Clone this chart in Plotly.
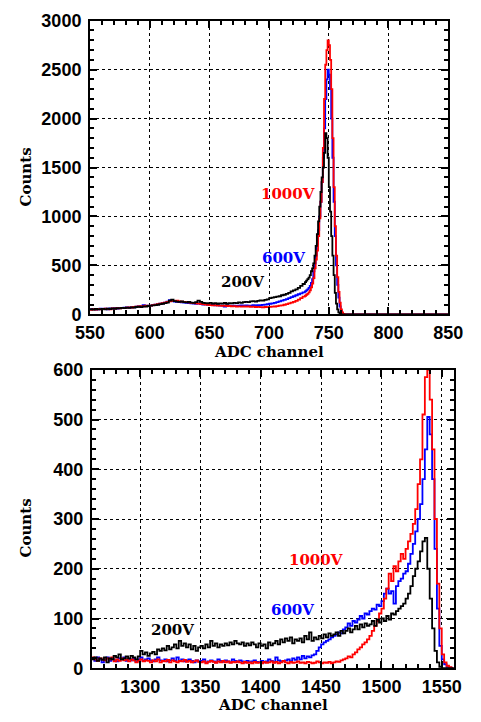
import plotly.graph_objects as go

# ---------------- Top panel data (ADC channel 550-850) ----------------
top_tail_channels = list(range(550, 730, 2))          # 2-channel bins
top_peak_channels = list(range(730, 766))             # 1-channel bins near the peak
top_end_channels = [766, 850]

top_black_tail = [52, 48, 55, 50, 53, 55, 50, 58, 54, 60, 57, 62, 60, 65, 63,
                  68, 66, 72, 70, 75, 78, 74, 82, 80, 85, 88, 92, 95, 98, 105,
                  108, 115, 120, 140, 150, 135, 130, 128, 132, 125, 122, 128, 120, 118, 125,
                  140, 128, 118, 115, 112, 118, 110, 115, 108, 112, 110, 116, 108, 114, 112,
                  118, 115, 122, 118, 125, 128, 124, 132, 135, 130, 138, 142, 140, 148, 152,
                  165, 170, 175, 180, 185, 195, 200, 210, 220, 235, 245, 255, 270, 290, 310]
top_black_peak = [330, 345, 360, 375, 400, 440, 470, 520, 600, 700, 820, 950, 1100, 1250, 1400,
                  1500, 1650, 1850, 1800, 1600, 1300, 1050, 800, 600, 400, 220, 110, 50, 20, 5,
                  0, 0, 0, 0, 0, 0]

top_blue_tail = [50, 55, 48, 52, 57, 54, 58, 52, 60, 57, 62, 58, 65, 63, 68,
                 70, 66, 74, 72, 78, 82, 78, 95, 85, 88, 90, 95, 98, 102, 108,
                 112, 120, 130, 145, 135, 130, 128, 125, 122, 120, 118, 115, 112, 110, 108,
                 112, 105, 100, 102, 98, 95, 97, 92, 94, 90, 88, 80, 92, 89, 87,
                 90, 86, 88, 92, 89, 92, 90, 88, 94, 92, 95, 93, 97, 100, 103,
                 108, 112, 118, 125, 132, 140, 148, 155, 165, 175, 185, 195, 205, 215, 225]
top_blue_peak = [235, 245, 255, 270, 290, 320, 360, 440, 520, 600, 720, 860, 1000, 1150, 1350,
                 1600, 1900, 2200, 2400, 2500, 2450, 2300, 2000, 1600, 1150, 800, 500, 300, 170, 80,
                 35, 10, 0, 0, 0, 0]

top_red_tail = [45, 52, 48, 55, 50, 53, 58, 55, 52, 60, 58, 63, 60, 66, 64,
                68, 72, 70, 75, 78, 80, 84, 82, 88, 86, 90, 94, 100, 105, 110,
                115, 120, 128, 132, 138, 135, 140, 132, 130, 128, 125, 122, 118, 115, 112,
                110, 108, 104, 100, 98, 95, 92, 94, 90, 88, 86, 88, 84, 86, 82,
                84, 80, 82, 78, 80, 78, 80, 76, 78, 75, 76, 74, 72, 75, 74,
                76, 78, 80, 84, 88, 92, 98, 105, 112, 120, 128, 138, 150, 165, 180]
top_red_peak = [190, 200, 210, 225, 245, 275, 315, 370, 470, 560, 650, 800, 980, 1150, 1350,
                1700, 2200, 2550, 2700, 2800, 2750, 2600, 2300, 1800, 1300, 900, 600, 380, 230, 120,
                50, 20, 5, 0, 0, 0]

# ---------------- Bottom panel data (ADC channel 1260-1560) ----------------
bot_channels = list(range(1260, 1560, 2))
bot_end_channel = [1560]

bot_black = [18, 22, 15, 20, 17, 22, 12, 20, 18, 25, 22, 28, 18, 20, 24, 20, 25, 22, 18, 24,
             35, 28, 32, 25, 30, 33, 28, 38, 35, 40, 36, 45, 38, 42, 48, 40, 55, 45, 50, 42,
             48, 38, 45, 35, 42, 45, 40, 48, 42, 55, 45, 50, 42, 48, 45, 50, 46, 52, 48, 55,
             50, 48, 52, 45, 50, 46, 52, 48, 42, 50, 45, 48, 40, 52, 46, 50, 55, 48, 58, 52,
             60, 55, 62, 50, 58, 55, 60, 52, 65, 58, 72, 55, 62, 58, 65, 60, 68, 62, 70, 65,
             68, 72, 65, 75, 70, 75, 80, 72, 78, 85, 78, 88, 82, 90, 85, 88, 95, 85, 98, 92,
             100, 95, 105, 98, 110, 108, 115, 120, 125, 130, 140, 150, 165, 185, 200,
             215, 235, 255, 262, 200, 140, 80, 35, 12, 3, 0, 0, 0, 0, 0]

bot_blue = [20, 15, 22, 18, 12, 18, 22, 15, 20, 16, 14, 20, 18, 22, 15, 18, 16, 20, 14, 18,
            22, 15, 18, 20, 16, 14, 18, 22, 16, 15, 18, 14, 16, 20, 15, 22, 15, 18, 14, 16,
            18, 15, 12, 16, 14, 15, 18, 12, 14, 16, 14, 12, 18, 15, 13, 16, 14, 12, 18, 15,
            13, 16, 14, 12, 15, 12, 14, 16, 13, 12, 15, 12, 14, 18, 15, 12, 22, 16, 14, 15,
            16, 18, 14, 20, 17, 22, 18, 25, 20, 24, 22, 26, 28, 35, 42, 48, 52, 55, 58, 62,
            65, 68, 72, 70, 78, 82, 90, 85, 95, 92, 98, 105, 100, 110, 108, 115, 120, 118, 128, 125,
            135, 150, 160, 150, 155, 130, 165, 175, 180, 190, 195, 210, 230, 250, 275,
            300, 330, 380, 440, 505, 470, 380, 240, 120, 45, 18, 8, 3, 1, 0]

bot_red = [22, 18, 15, 20, 18, 16, 20, 18, 22, 14, 18, 15, 20, 16, 18, 14, 18, 16, 12, 15,
           18, 14, 16, 15, 12, 16, 14, 18, 12, 15, 14, 17, 12, 16, 14, 12, 15, 14, 17, 13,
           15, 12, 14, 16, 13, 12, 14, 10, 13, 15, 13, 11, 14, 12, 15, 12, 14, 11, 13, 12,
           14, 12, 10, 13, 11, 12, 10, 13, 11, 12, 10, 13, 11, 12, 14, 11, 13, 10, 12, 15,
           12, 10, 13, 11, 12, 14, 11, 12, 10, 13, 12, 10, 11, 14, 12, 10, 12, 11, 13, 10,
           12, 14, 13, 16, 18, 20, 24, 22, 28, 32, 38, 42, 48, 52, 58, 65, 75, 85, 95, 110,
           120, 140, 160, 190, 175, 205, 195, 215, 230, 220, 240, 255, 270, 290, 320,
           370, 420, 510, 585, 600, 540, 440, 300, 170, 80, 28, 12, 5, 2, 0]

labels = ["200V", "600V", "1000V"]
colors = {"200V": "#000000", "600V": "#0000ff", "1000V": "#ff0000"}

TICK_FONT = dict(family="Liberation Sans", size=18, color="black", weight="bold")
LABEL_FONT = dict(family="DejaVu Serif", size=15, color="black", weight="bold")

fig = go.Figure()

top_x = top_tail_channels + top_peak_channels + top_end_channels
top_series = {
    "600V": top_blue_tail + top_blue_peak + [0, 0],
    "1000V": top_red_tail + top_red_peak + [0, 0],
    "200V": top_black_tail + top_black_peak + [0, 0],
}
for name, ys in top_series.items():
    fig.add_trace(go.Scatter(x=top_x, y=ys, mode="lines", line_shape="hv",
                             line=dict(color=colors[name], width=1.8),
                             xaxis="x", yaxis="y", showlegend=False, name=name))

bot_x = bot_channels + bot_end_channel
bot_series = {
    "600V": bot_blue + [bot_blue[-1]],
    "1000V": bot_red + [bot_red[-1]],
    "200V": bot_black + [bot_black[-1]],
}
for name, ys in bot_series.items():
    fig.add_trace(go.Scatter(x=bot_x, y=ys, mode="lines", line_shape="hv",
                             line=dict(color=colors[name], width=1.8),
                             xaxis="x2", yaxis="y2", showlegend=False, name=name))

W, H = 481, 722


def axis_common():
    return dict(showline=True, linecolor="black", linewidth=2, mirror="allticks",
                ticks="inside", ticklen=7, tickwidth=1.5, tickcolor="black",
                showgrid=True, gridcolor="black", gridwidth=1, griddash="dot",
                zeroline=False, tickfont=TICK_FONT, fixedrange=True)


fig.update_layout(
    width=W, height=H, autosize=False,
    margin=dict(l=0, r=0, t=0, b=0),
    paper_bgcolor="white", plot_bgcolor="white",
    xaxis=dict(domain=[80 / W, 462 / W], range=[550, 850], dtick=50, tick0=550,
               ticklabelstandoff=1,
               minor=dict(dtick=10, ticks="inside", ticklen=4, tickcolor="black", showgrid=False),
               anchor="y", **axis_common()),
    yaxis=dict(domain=[1 - 313 / H, 1 - 11 / H], range=[0, 3000], dtick=500,
               ticklabelstandoff=3,
               minor=dict(dtick=100, ticks="inside", ticklen=4, tickcolor="black", showgrid=False),
               anchor="x", **axis_common()),
    xaxis2=dict(domain=[82 / W, 468 / W], range=[1260, 1560], dtick=50, tick0=1300,
                ticklabelstandoff=1,
                minor=dict(dtick=10, ticks="inside", ticklen=4, tickcolor="black", showgrid=False),
                anchor="y2", **axis_common()),
    yaxis2=dict(domain=[1 - 677 / H, 1 - 370 / H], range=[0, 600], dtick=100,
                ticklabelstandoff=3,
                minor=dict(dtick=20, ticks="inside", ticklen=4, tickcolor="black", showgrid=False),
                anchor="x2", **axis_common()),
)

annotations = [
    # axis titles
    dict(text="Counts", x=12 / W, y=1 - 172 / H, textangle=-90),
    dict(text="ADC channel", x=271 / W, y=1 - 352 / H),
    dict(text="Counts", x=12 / W, y=1 - 533 / H, textangle=-90),
    dict(text="ADC channel", x=275 / W, y=1 - 715 / H),
]
for a in annotations:
    fig.add_annotation(xref="paper", yref="paper", showarrow=False,
                       xanchor="center", yanchor="middle", font=LABEL_FONT, **a)

# series labels inside the panels (data coordinates)
top_label_pos = {"1000V": (740, 1230), "600V": (732, 576), "200V": (697, 328)}
bot_label_pos = {"1000V": (1446, 217), "600V": (1426, 117), "200V": (1327, 77)}
for name, (x, y) in top_label_pos.items():
    fig.add_annotation(x=x, y=y, xref="x", yref="y", text=name, showarrow=False,
                       xanchor="right", yanchor="middle",
                       font=dict(family="DejaVu Serif", size=15, color=colors[name], weight="bold"))
for name, (x, y) in bot_label_pos.items():
    fig.add_annotation(x=x, y=y, xref="x2", yref="y2", text=name, showarrow=False,
                       xanchor="center", yanchor="middle",
                       font=dict(family="DejaVu Serif", size=15, color=colors[name], weight="bold"))

fig.write_html("out.html")
